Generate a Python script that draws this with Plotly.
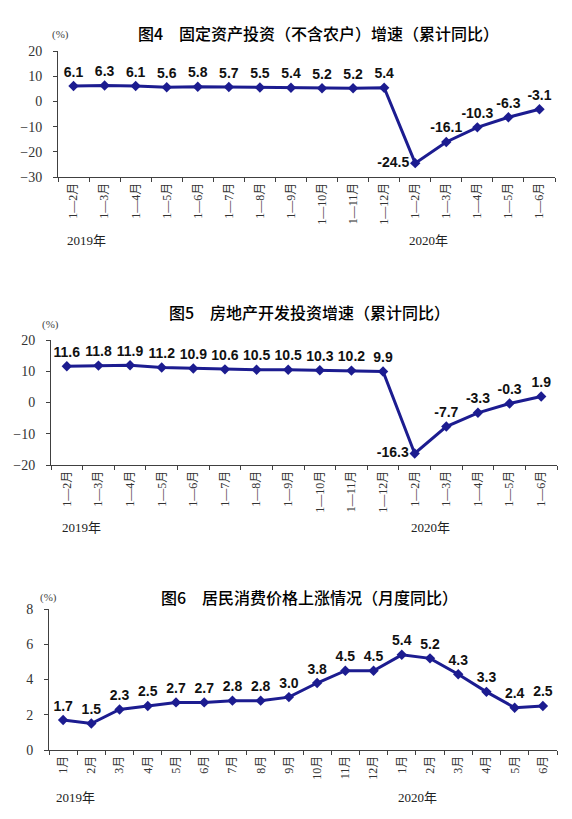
import plotly.graph_objects as go

# 图4 固定资产投资（不含农户）增速（累计同比）
fig4_months_2019 = ["1—2月", "1—3月", "1—4月", "1—5月", "1—6月", "1—7月",
                    "1—8月", "1—9月", "1—10月", "1—11月", "1—12月"]
fig4_months_2020 = ["1—2月", "1—3月", "1—4月", "1—5月", "1—6月"]
fig4_values = [6.1, 6.3, 6.1, 5.6, 5.8, 5.7, 5.5, 5.4, 5.2, 5.2, 5.4,
               -24.5, -16.1, -10.3, -6.3, -3.1]

# 图5 房地产开发投资增速（累计同比）
fig5_months_2019 = fig4_months_2019
fig5_months_2020 = fig4_months_2020
fig5_values = [11.6, 11.8, 11.9, 11.2, 10.9, 10.6, 10.5, 10.5, 10.3, 10.2, 9.9,
               -16.3, -7.7, -3.3, -0.3, 1.9]

# 图6 居民消费价格上涨情况（月度同比）
fig6_months_2019 = ["1月", "2月", "3月", "4月", "5月", "6月", "7月", "8月",
                    "9月", "10月", "11月", "12月"]
fig6_months_2020 = ["1月", "2月", "3月", "4月", "5月", "6月"]
fig6_values = [1.7, 1.5, 2.3, 2.5, 2.7, 2.7, 2.8, 2.8, 3.0, 3.8, 4.5, 4.5,
               5.4, 5.2, 4.3, 3.3, 2.4, 2.5]

W, H = 572, 819
NAVY = "#1c1c90"
AXIS = "#404040"
SERIF = "Liberation Serif, Noto Sans CJK SC"
CJK = "Noto Sans CJK SC"
BOLD = "Liberation Sans"


def px_x(v):
    return v / W


def px_y(v):
    return 1 - v / H


def cats(a, b):
    # zero-width prefix keeps the 2020 months distinct from 2019
    return list(a) + ["\u200b" + m for m in b]


panels = [
    dict(title="图4　固定资产投资（不含农户）增速（累计同比）",
         x=cats(fig4_months_2019, fig4_months_2020), y=fig4_values,
         left=58, right=555, top=51, bottom=177, rng=[-30, 20], dt=10,
         title_x=318, title_y=33, pct=(60, 35), yr_y=240, y19=86, y20=428,
         left_labels=[11]),
    dict(title="图5　房地产开发投资增速（累计同比）",
         x=cats(fig5_months_2019, fig5_months_2020), y=fig5_values,
         left=51, right=557, top=340, bottom=465, rng=[-20, 20], dt=10,
         title_x=309, title_y=312, pct=(50, 325), yr_y=527, y19=81, y20=430,
         left_labels=[11]),
    dict(title="图6　居民消费价格上涨情况（月度同比）",
         x=cats(fig6_months_2019, fig6_months_2020), y=fig6_values,
         left=49, right=557, top=609, bottom=750, rng=[0, 8], dt=2,
         title_x=309, title_y=597, pct=(48, 597), yr_y=797, y19=75, y20=417,
         left_labels=[]),
]

fig = go.Figure()
annotations = []

for i, p in enumerate(panels, start=1):
    sfx = "" if i == 1 else str(i)
    n = len(p["y"])
    positions = ["middle left" if k in p["left_labels"] else "top center"
                 for k in range(n)]
    fig.add_trace(go.Scatter(
        x=p["x"], y=p["y"], xaxis="x" + sfx, yaxis="y" + sfx,
        mode="lines+markers+text",
        line=dict(color=NAVY, width=3),
        marker=dict(symbol="diamond", size=8, color=NAVY),
        text=[f"{v:.1f}" for v in p["y"]],
        textposition=positions,
        textfont=dict(family=BOLD, size=14, color="#111111", weight="bold"),
        cliponaxis=False, showlegend=False, hoverinfo="skip",
    ))
    fig.layout["xaxis" + sfx] = dict(
        domain=[px_x(p["left"]), px_x(p["right"])], anchor="y" + sfx,
        type="category", range=[-0.5, n - 0.5], autorange=False,
        tickson="boundaries", ticks="outside", ticklen=4,
        tickcolor=AXIS, showline=True, linecolor=AXIS, linewidth=1,
        showgrid=False, zeroline=False, tickangle=-90, automargin=False,
        tickfont=dict(family=SERIF, size=12, color="#333333"),
        fixedrange=True,
    )
    fig.layout["yaxis" + sfx] = dict(
        domain=[px_y(p["bottom"]), px_y(p["top"])], anchor="x" + sfx,
        range=p["rng"], dtick=p["dt"], ticks="outside", ticklen=4,
        tickcolor=AXIS, showline=True, linecolor=AXIS, linewidth=1,
        showgrid=False, zeroline=False, ticklabelstandoff=8, automargin=False,
        tickfont=dict(family=SERIF, size=14, color="#333333"),
        fixedrange=True,
    )
    annotations += [
        dict(text=p["title"], x=px_x(p["title_x"]), y=px_y(p["title_y"]),
             xref="paper", yref="paper", showarrow=False,
             xanchor="center", yanchor="middle",
             font=dict(family=CJK, size=16, color="#000000", weight=500)),
        dict(text="(%)", x=px_x(p["pct"][0]), y=px_y(p["pct"][1]),
             xref="paper", yref="paper", showarrow=False,
             xanchor="center", yanchor="middle",
             font=dict(family=SERIF, size=11, color="#444444")),
        dict(text="2019年", x=px_x(p["y19"]), y=px_y(p["yr_y"]),
             xref="paper", yref="paper", showarrow=False,
             xanchor="center", yanchor="middle",
             font=dict(family=SERIF, size=13, color="#222222")),
        dict(text="2020年", x=px_x(p["y20"]), y=px_y(p["yr_y"]),
             xref="paper", yref="paper", showarrow=False,
             xanchor="center", yanchor="middle",
             font=dict(family=SERIF, size=13, color="#222222")),
    ]

fig.update_layout(
    width=W, height=H,
    margin=dict(l=0, r=0, t=0, b=0, pad=0, autoexpand=False),
    paper_bgcolor="white", plot_bgcolor="white",
    annotations=annotations,
)

fig.write_html(
    "out.html",
    config={"displayModeBar": False},
    post_script="document.documentElement.style.margin='0';"
                "document.body.style.margin='0';"
                "document.body.style.padding='0';"
                "document.body.style.overflow='hidden';",
)
